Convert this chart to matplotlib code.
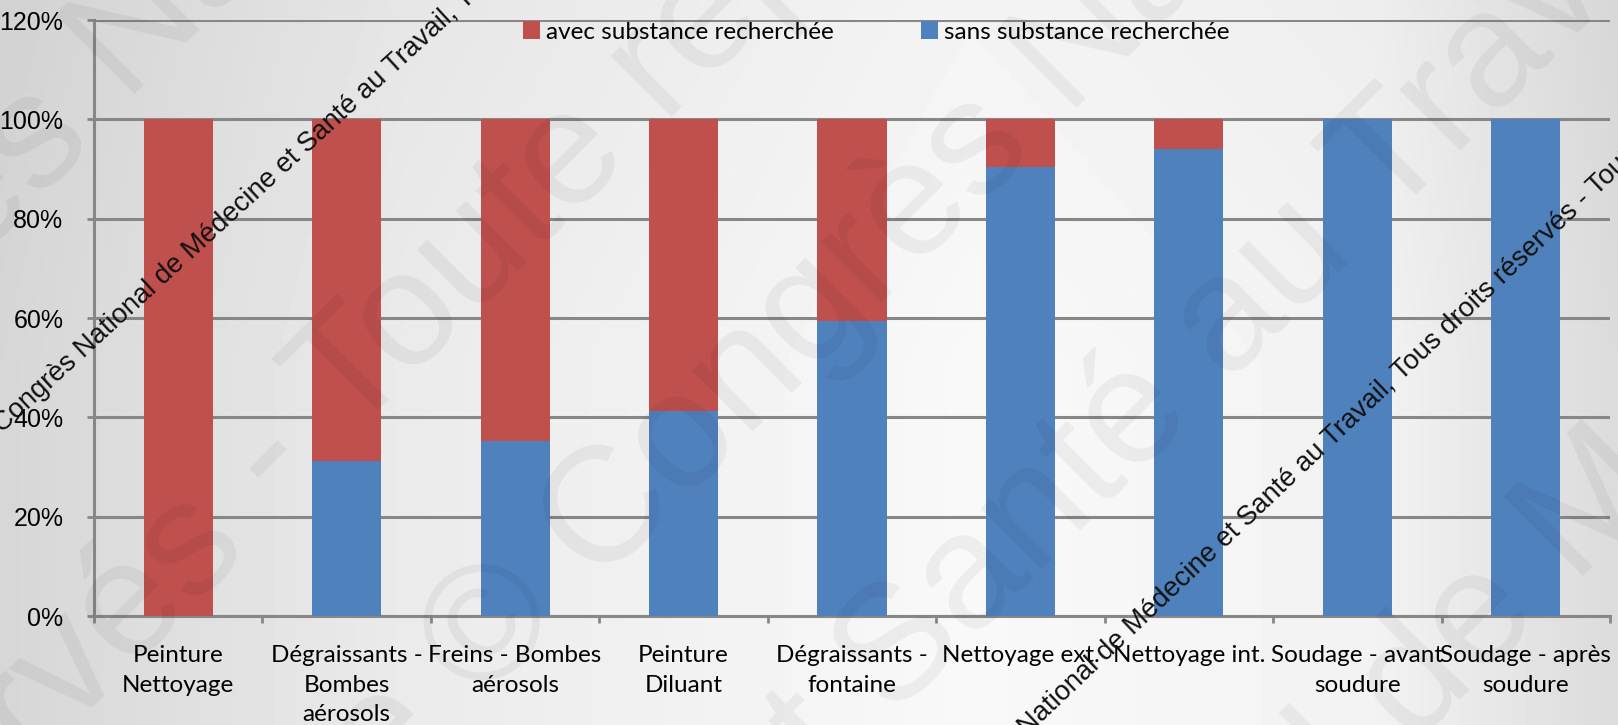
# barres empilees 100% - substance recherchee par poste

import numpy as np
import matplotlib.pyplot as plt

categories = ["Peinture\nNettoyage", "Dégraissants -\nBombes\naérosols", "Freins - Bombes\naérosols",
              "Peinture\nDiluant", "Dégraissants -\nfontaine", "Nettoyage ext.", "Nettoyage int.",
              "Soudage - avant\nsoudure", "Soudage - après\nsoudure"]
sans = [0.0, 31.3, 35.3, 41.2, 59.3, 90.5, 94.1, 100.0, 100.0]
avec = [100 - v for v in sans]
yticks = [0, 20, 40, 60, 80, 100, 120]
ytick_labels = ["0%", "20%", "40%", "60%", "80%", "100%", "120%"]

red = "#C0504D"
blue = "#4F81BD"
grid = "#878787"
label_font = ["Lato", "DejaVu Sans"]
num_font = ["Liberation Sans", "DejaVu Sans"]

W, H = 1618, 725
fig = plt.figure(figsize=(W / 100, H / 100), dpi=100)

# fond degrade gris
bg = fig.add_axes([0, 0, 1, 1], zorder=-10)
xs = np.linspace(0, 1, 400)
prof = np.interp(xs, [0, 0.25, 0.6, 0.85, 1.0], [0.84, 0.92, 0.975, 0.95, 0.86])
ys = np.linspace(0, 1, 200)
vprof = np.interp(ys, [0, 0.5, 1.0], [0.98, 1.0, 1.0])
bg.imshow(np.outer(vprof, prof), cmap="gray", vmin=0, vmax=1, aspect="auto", extent=[0, 1, 0, 1])
bg.axis("off")

ax = fig.add_axes([94 / W, 1 - 616 / H, (1610 - 94) / W, (616 - 20) / H])
ax.set_facecolor("none")

x = np.arange(len(categories)) + 0.5
ax.bar(x, sans, width=0.41, color=blue, label="sans substance recherchée", zorder=3)
ax.bar(x, avec, width=0.41, bottom=sans, color=red, label="avec substance recherchée", zorder=3)

ax.set_xlim(0, len(categories))
ax.set_ylim(0, 120)
ax.set_yticks(yticks)
ax.set_yticklabels(ytick_labels, fontsize=18, family=num_font)
ax.tick_params(axis="y", length=5, width=2, color=grid, pad=17)
ax.yaxis.grid(True, color=grid, linewidth=2.2, zorder=1)

ax.set_xticks(np.arange(len(categories) + 1))
ax.set_xticklabels([])
ax.tick_params(axis="x", which="major", direction="out", length=5, width=2, color=grid)
ax.set_xticks(x, minor=True)
ax.set_xticklabels(categories, minor=True, fontsize=17.5, family=label_font, linespacing=1.5)
ax.tick_params(axis="x", which="minor", length=0, pad=21)

for s in ["top", "right"]:
    ax.spines[s].set_visible(False)
for s in ["left", "bottom"]:
    ax.spines[s].set_color(grid)
    ax.spines[s].set_linewidth(2.2)

h, l = ax.get_legend_handles_labels()
fig.legend(h[::-1], l[::-1], loc="center", bbox_to_anchor=(876 / W, 1 - 32 / H), ncol=2, frameon=False,
           prop={"family": label_font, "size": 17.5}, handlelength=0.7, handleheight=0.7,
           handletextpad=0.25, columnspacing=3.6)


def fpos(px, py):
    return px / W, 1 - py / H


# filigrane (texte noir)
wm = "Congrès National de Médecine et Santé au Travail, Tous droits réservés - Toute reproduction interdite"
for px, py, rot in [(2, 434, 42.5), (947, 813, 43.5)]:
    fig.text(*fpos(px, py), wm, fontsize=19.7, family=num_font, rotation=rot,
             rotation_mode="anchor", ha="left", va="baseline", color="#111111", zorder=20)

# filigrane (grandes lettres pales)
big = [("réservés", " - Toute reproduction", (248, 541)),
       ("interdite ", "© Congrès National de", (480, 705)),
       ("Médecine et ", "Santé au Travail", (893, 719)),
       ("National d", "e Médecine et", (1478, 682)),
       ("Congrès", " National de", (94, 136))]
for left, right, (px, py) in big:
    for txt, ha in [(left, "right"), (right, "left")]:
        fig.text(*fpos(px, py), txt, fontsize=118, family=num_font, rotation=45,
                 rotation_mode="anchor", ha=ha, va="baseline", color="#000000", alpha=0.05, zorder=15)

fig.savefig("out.png", dpi=100)
